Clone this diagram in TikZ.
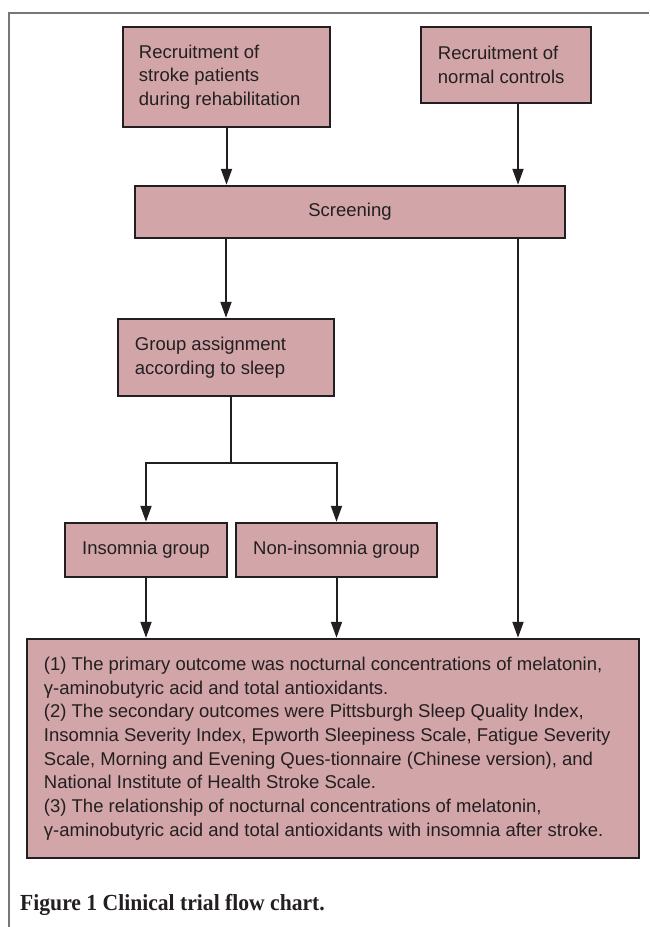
\documentclass[tikz,border=0pt]{standalone}
\usepackage{fontspec}
\setmainfont{Liberation Sans}
\newfontfamily\capfont[FakeStretch=0.94]{Liberation Serif}
\usetikzlibrary{arrows.meta}
\definecolor{boxfill}{HTML}{D2A5A8}
\definecolor{ink}{HTML}{231F20}
\definecolor{framegray}{HTML}{777777}
\tikzset{
  box/.style={draw=ink, line width=2.5pt, fill=boxfill, inner sep=0pt},
  txt/.style={text=ink, align=left, inner sep=0pt, font=\fontsize{18.5}{23.7}\selectfont},
  ctxt/.style={text=ink, align=center, inner sep=0pt, font=\fontsize{18.5}{23.7}\selectfont},
  conn/.style={draw=ink, line width=2pt},
  arr/.style={conn, -{Triangle[length=16pt,width=11pt]}},
}
\begin{document}
\begin{tikzpicture}[x=1pt,y=-1pt]
\useasboundingbox (0,0) rectangle (649,927);
% frame
\draw[framegray, line width=2pt] (8.5,927) -- (8.5,12.5) -- (649,12.5);
% boxes
\node[box, minimum width=207pt, minimum height=100pt] (b1) at (226.5,77) {};
\node[txt, anchor=west] (t1) at ([xshift=17pt]b1.west) {Recruitment of\\stroke patients\\during rehabilitation};
\node[box, minimum width=170pt, minimum height=76pt] (b2) at (506,65) {};
\node[txt, anchor=west] (t2) at ([xshift=18pt]b2.west) {Recruitment of\\normal controls};
\node[box, minimum width=430pt, minimum height=52pt] (scr) at (350,212) {};
\node[ctxt] (tscr) at (scr.center) {Screening};
\node[box, minimum width=216pt, minimum height=77pt] (grp) at (226,357.5) {};
\node[txt, anchor=west] (tgrp) at ([xshift=18pt]grp.west) {Group assignment\\according to sleep};
\node[box, minimum width=162pt, minimum height=54pt] (ins) at (146,550) {};
\node[ctxt] (tins) at (ins.center) {Insomnia group};
\node[box, minimum width=201pt, minimum height=54pt] (non) at (336.5,550) {};
\node[ctxt] (tnon) at (non.center) {Non-insomnia group};
\node[box, minimum width=612pt, minimum height=219pt] (bot) at (333,748.5) {};
\node[txt, anchor=west] (tbot) at ([xshift=18pt]bot.west) {(1) The primary outcome was nocturnal concentrations of melatonin,\\γ-aminobutyric acid and total antioxidants.\\(2) The secondary outcomes were Pittsburgh Sleep Quality Index,\\Insomnia Severity Index, Epworth Sleepiness Scale, Fatigue Severity\\Scale, Morning and Evening Ques-tionnaire (Chinese version), and\\National Institute of Health Stroke Scale.\\(3) The relationship of nocturnal concentrations of melatonin,\\γ-aminobutyric acid and total antioxidants with insomnia after stroke.};
% caption
\node[anchor=base west, inner sep=0pt, text=ink, font=\capfont\bfseries\fontsize{23}{26}\selectfont] (cap) at (20,910) {Figure 1 Clinical trial flow chart.};
% helper coordinates
\coordinate (cr) at (518,0);
\coordinate (split) at (231,463);
% connectors
\draw[arr] (b1.south) -- (b1.south |- scr.north);
\draw[arr] (cr |- b2.south) -- (cr |- scr.north);
\draw[arr] (grp.north |- scr.south) -- (grp.north);
\draw[conn] (split |- grp.south) -- (split);
\draw[arr] (split) -| (ins.north);
\draw[arr] (split) -| (non.north);
\draw[arr] (cr |- scr.south) -- (cr |- bot.north);
\draw[arr] (ins.south) -- (ins.south |- bot.north);
\draw[arr] (non.south) -- (non.south |- bot.north);
\end{tikzpicture}
\end{document}
